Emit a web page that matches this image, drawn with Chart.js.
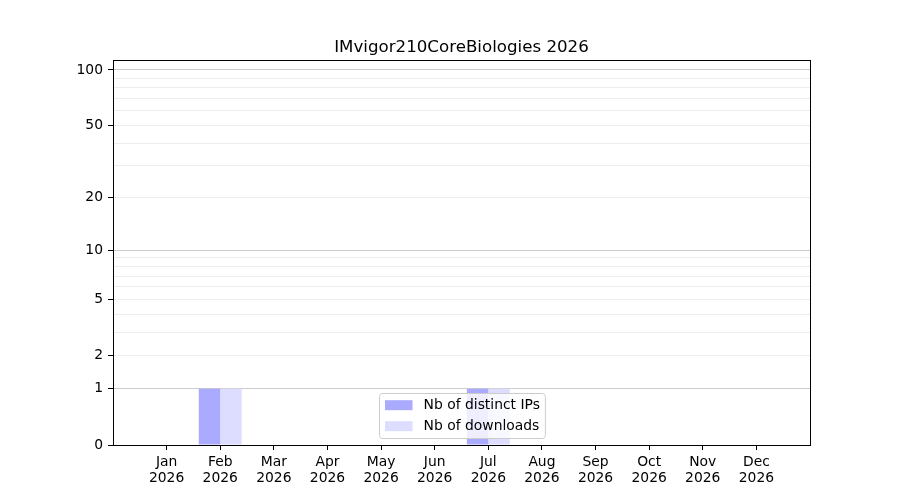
<!DOCTYPE html>
<html>
<head>
<meta charset="utf-8">
<script src="https://cdn.jsdelivr.net/npm/chart.js@4/dist/chart.umd.min.js"></script>
<style>
  html, body { margin: 0; padding: 0; background: #ffffff; }
  #wrap { width: 900px; height: 500px; }
</style>
</head>
<body>
<div id="wrap"><canvas id="c" width="900" height="500"></canvas></div>
<script>
const chartTitle = 'IMvigor210CoreBiologies 2026';
const months = ['Jan','Feb','Mar','Apr','May','Jun','Jul','Aug','Sep','Oct','Nov','Dec'];
const yearLabel = '2026';
const distinctIPs = [0,1,0,0,0,0,1,0,0,0,0,0];
const downloads   = [0,1,0,0,0,0,1,0,0,0,0,0];
const seriesLabels = ['Nb of distinct IPs', 'Nb of downloads'];
const seriesColors = ['#aaaaff', '#ddddff'];
const yLabeledTicks = [0,1,2,5,10,20,50,100];
const yMinorTicks = [3,4,6,7,8,9,30,40,60,70,80,90];
const yMajorGrid = [1,10,100];
const yAxisMax = 113.2;

const FONT = 'DejaVu Sans';
const f = v => Math.log10(1 + v);

class Log1pScale extends Chart.LinearScale {
  buildTicks() {
    const all = yLabeledTicks.concat(yMinorTicks).sort((a,b)=>a-b);
    return all.map(v => ({ value: v }));
  }
  getPixelForValue(value) {
    const lo = f(this.min), hi = f(this.max);
    return this.getPixelForDecimal((f(value) - lo) / (hi - lo));
  }
  getValueForPixel(pixel) {
    const lo = f(this.min), hi = f(this.max);
    const d = this.getDecimalForPixel(pixel);
    return Math.pow(10, lo + d * (hi - lo)) - 1;
  }
}
Log1pScale.id = 'log1p';
Log1pScale.defaults = Chart.LinearScale.defaults;
Chart.register(Log1pScale);

const framePlugin = {
  id: 'frame',
  afterDatasetsDraw(chart) {
    const a = chart.chartArea, ctx = chart.ctx;
    ctx.save();
    ctx.strokeStyle = '#000';
    ctx.lineWidth = 1;
    ctx.strokeRect(Math.round(a.left) + 0.5, Math.round(a.top) + 0.5,
                   Math.round(a.right - a.left), Math.round(a.bottom - a.top));
    ctx.restore();
  }
};

const legendPlugin = {
  id: 'innerLegend',
  afterDraw(chart) {
    const a = chart.chartArea, ctx = chart.ctx;
    const ds = chart.data.datasets;
    ctx.save();
    ctx.font = '13.89px "' + FONT + '"';
    let tw = 0;
    ds.forEach(d => { tw = Math.max(tw, ctx.measureText(d.label).width); });
    const pad = 5.5, handle = 27.5, gap = 11.1;
    const w = pad + handle + gap + tw + pad;
    const h = 45;
    const cx = (a.left + a.right) / 2;
    const x = Math.round(cx - w / 2) + 0.5;
    const bottom = a.bottom - 7.5;
    const y = Math.round(bottom - h) + 0.5;
    const r = 3;
    ctx.beginPath();
    ctx.moveTo(x + r, y);
    ctx.lineTo(x + w - r, y);
    ctx.arcTo(x + w, y, x + w, y + r, r);
    ctx.lineTo(x + w, y + h - r);
    ctx.arcTo(x + w, y + h, x + w - r, y + h, r);
    ctx.lineTo(x + r, y + h);
    ctx.arcTo(x, y + h, x, y + h - r, r);
    ctx.lineTo(x, y + r);
    ctx.arcTo(x, y, x + r, y, r);
    ctx.closePath();
    ctx.fillStyle = 'rgba(255,255,255,0.8)';
    ctx.fill();
    ctx.strokeStyle = '#cccccc';
    ctx.lineWidth = 1;
    ctx.stroke();
    const rows = [11.7, 32.7];
    ds.forEach((d, i) => {
      const ry = y + rows[i];
      ctx.fillStyle = d.backgroundColor;
      ctx.fillRect(x + pad, ry - 5, handle, 10);
      ctx.fillStyle = '#000';
      ctx.textBaseline = 'middle';
      ctx.textAlign = 'left';
      ctx.fillText(d.label, x + pad + handle + gap, ry + 0.5);
    });
    ctx.restore();
  }
};

const isLabeled = v => yLabeledTicks.includes(v);

new Chart(document.getElementById('c'), {
  type: 'bar',
  data: {
    datasets: [
      { label: seriesLabels[0], data: distinctIPs.map((v, i) => ({ x: i, y: v })),
        backgroundColor: seriesColors[0], borderWidth: 0,
        categoryPercentage: 0.8, barPercentage: 1.0 },
      { label: seriesLabels[1], data: downloads.map((v, i) => ({ x: i, y: v })),
        backgroundColor: seriesColors[1], borderWidth: 0,
        categoryPercentage: 0.8, barPercentage: 1.0 }
    ]
  },
  options: {
    responsive: false,
    animation: false,
    events: [],
    layout: { padding: { left: 0, right: 90, top: 0, bottom: 0 } },
    plugins: {
      legend: { display: false },
      tooltip: { enabled: false },
      title: {
        display: true, text: chartTitle, color: '#000', fullSize: false,
        font: { family: FONT, size: 16.67, weight: 'normal', lineHeight: 1.2 },
        padding: { top: 38, bottom: 2 }
      }
    },
    scales: {
      x: {
        type: 'linear', min: -1, max: 12, offset: false,
        afterBuildTicks: s => { s.ticks = months.map((m, i) => ({ value: i })); },
        afterFit: s => { s.height = 55; },
        ticks: {
          autoSkip: false, maxRotation: 0, minRotation: 0, padding: 5,
          color: '#000', font: { family: FONT, size: 13.89, lineHeight: 1.12 },
          callback: v => [months[v], yearLabel]
        },
        grid: { display: true, drawOnChartArea: false, drawTicks: true, tickLength: 5, tickColor: '#000', offset: false },
        border: { display: true, color: '#000', width: 1 }
      },
      y: {
        type: 'log1p', min: 0, max: yAxisMax,
        afterFit: s => { s.width = 113; },
        ticks: {
          autoSkip: false, padding: 5, color: '#000',
          font: { family: FONT, size: 13.89 },
          callback: v => isLabeled(v) ? String(v) : ''
        },
        grid: {
          drawTicks: true, tickLength: 5,
          color: c => (c.tick && yMajorGrid.includes(c.tick.value)) ? '#cccccc' : '#ededed',
          tickColor: c => (c.tick && isLabeled(c.tick.value)) ? '#000' : 'rgba(0,0,0,0)',
          lineWidth: 1
        },
        border: { display: true, color: '#000', width: 1 }
      }
    }
  },
  plugins: [framePlugin, legendPlugin]
});
</script>
</body>
</html>
